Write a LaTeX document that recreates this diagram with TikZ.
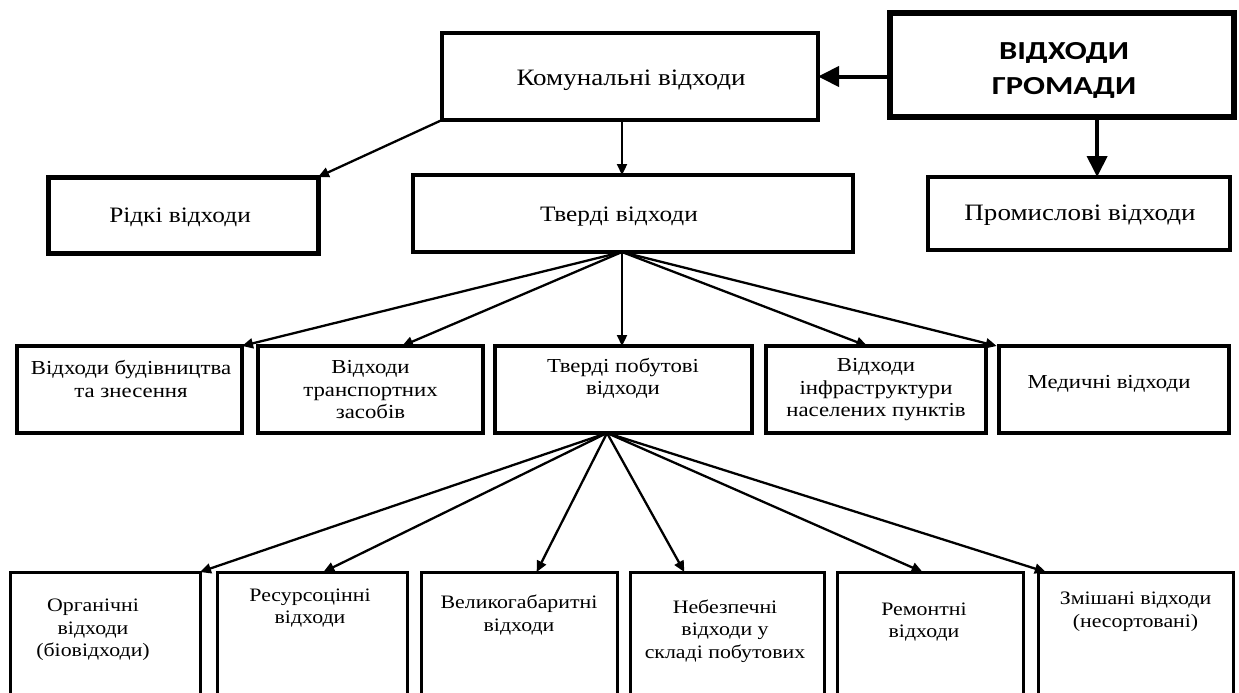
\documentclass[tikz,border=0pt]{standalone}
\usepackage{fontspec}
\setmainfont{Liberation Serif}[FakeStretch=1.15]
\newfontfamily\vgfont{Carlito}[FakeStretch=1.25]
\usetikzlibrary{arrows.meta,calc}
\tikzset{
  box/.style={draw=black, rectangle, inner sep=0pt, outer sep=0pt, fill=white},
  lbl/.style={align=center, inner sep=0pt},
  thinarrow/.style={draw=black, line width=2.3pt, -{Triangle[length=11pt,width=10pt]}},
  bigarrow/.style={draw=black, line width=4pt, -{Triangle[length=21pt,width=20pt]}},
  bigtxt/.style={font=\fontsize{23.5}{27}\selectfont},
  midtxt/.style={font=\fontsize{19.8}{22.5}\selectfont},
  lowtxt/.style={font=\fontsize{19}{22.5}\selectfont},
}
\begin{document}
\begin{tikzpicture}[x=1pt,y=-1pt]
\useasboundingbox[fill=white] (0,0) rectangle (1239,693);
\begin{scope}
\clip (0,0) rectangle (1239,693);
% top
\node[box, line width=3.5pt, minimum width=376pt, minimum height=87pt] (kom) at (630,76.5) {};
\node[lbl, bigtxt] (komt) at (631,80) {Комунальні відходи};
\node[box, line width=6.5pt, minimum width=344pt, minimum height=104pt] (vg) at (1062,65) {};
\node[lbl, font=\vgfont\bfseries\fontsize{26}{35}\selectfont] (vgt) at (1064,70) {ВІДХОДИ\\ГРОМАДИ};
% second row
\node[box, line width=5pt, minimum width=270pt, minimum height=76pt] (ridk) at (183,215) {};
\node[lbl, font=\fontsize{22}{26}\selectfont] (ridkt) at (180,217) {Рідкі відходи};
\node[box, line width=4.5pt, minimum width=440pt, minimum height=77pt] (tverd) at (633,213.5) {};
\node[lbl, font=\fontsize{22}{26}\selectfont] (tverdt) at (619,217) {Тверді відходи};
\node[box, line width=4.5pt, minimum width=302pt, minimum height=73pt] (prom) at (1079,213.5) {};
\node[lbl, bigtxt] (promt) at (1080,215.5) {Промислові відходи};
% third row
\node[box, line width=3.5pt, minimum width=225pt, minimum height=87pt] (bud) at (129.5,389.5) {};
\node[lbl, midtxt] (budt) at (131,379) {Відходи будівництва\\та знесення};
\node[box, line width=3.5pt, minimum width=225pt, minimum height=87pt] (trans) at (370.5,389.5) {};
\node[lbl, midtxt] (transt) at (370.5,390) {Відходи\\транспортних\\засобів};
\node[box, line width=3.5pt, minimum width=257pt, minimum height=87pt] (tpv) at (623.5,389.5) {};
\node[lbl, midtxt] (tpvt) at (623,378.5) {Тверді побутові\\відходи};
\node[box, line width=3.5pt, minimum width=220pt, minimum height=87pt] (infra) at (876,389.5) {};
\node[lbl, midtxt] (infrat) at (876,390) {Відходи\\інфраструктури\\населених пунктів};
\node[box, line width=3.5pt, minimum width=230pt, minimum height=87pt] (med) at (1114,389.5) {};
\node[lbl, midtxt] (medt) at (1109,384) {Медичні відходи};
% fourth row
\node[box, line width=3pt, minimum width=190pt, minimum height=150pt, anchor=north] (org) at (105,572) {};
\node[lbl, lowtxt] (orgt) at (93,630) {Органічні\\відходи\\(біовідходи)};
\node[box, line width=3pt, minimum width=190pt, minimum height=150pt, anchor=north] (res) at (312,572) {};
\node[lbl, lowtxt] (rest) at (310,608) {Ресурсоцінні\\відходи};
\node[box, line width=3pt, minimum width=196pt, minimum height=150pt, anchor=north] (vel) at (519,572) {};
\node[lbl, lowtxt] (velt) at (519,615) {Великогабаритні\\відходи};
\node[box, line width=3pt, minimum width=194pt, minimum height=150pt, anchor=north] (neb) at (727,572) {};
\node[lbl, lowtxt] (nebt) at (725,631) {Небезпечні\\відходи у\\складі побутових};
\node[box, line width=3pt, minimum width=186pt, minimum height=150pt, anchor=north] (rem) at (930,572) {};
\node[lbl, lowtxt] (remt) at (924,622) {Ремонтні\\відходи};
\node[box, line width=3pt, minimum width=195pt, minimum height=150pt, anchor=north] (zm) at (1135.5,572) {};
\node[lbl, lowtxt] (zmt) at (1135.5,611.5) {Змішані відходи\\(несортовані)};
\end{scope}
% fan origins
\coordinate (f1) at (622,252);
\coordinate (f2) at (607,433);
% connectors
\draw[bigarrow] (vg.west |- kom.east) -- (kom.east);
\coordinate (promtop) at ($(prom.north west)!0.56!(prom.north east)$);
\draw[bigarrow] (vg.south -| promtop) -- (promtop);
\draw[thinarrow] (kom.south west) -- (ridk.north east);
\draw[thinarrow] (kom.south -| f1) -- (tverd.north -| f1);
\draw[thinarrow] (f1) -- (bud.north east);
\draw[thinarrow] (f1) -- ($(trans.north west)!0.64!(trans.north east)$);
\draw[thinarrow] (f1) -- (f1 |- tpv.north);
\draw[thinarrow] (f1) -- ($(infra.north west)!0.46!(infra.north east)$);
\draw[thinarrow] (f1) -- ($(med.north west)!-0.01!(med.north east)$);
\draw[thinarrow] (f2) -- (org.north east);
\draw[thinarrow] (f2) -- ($(res.north west)!0.56!(res.north east)$);
\draw[thinarrow] (f2) -- ($(vel.north west)!0.59!(vel.north east)$);
\draw[thinarrow] (f2) -- ($(neb.north west)!0.28!(neb.north east)$);
\draw[thinarrow] (f2) -- ($(rem.north west)!0.46!(rem.north east)$);
\draw[thinarrow] (f2) -- ($(zm.north west)!0.04!(zm.north east)$);
\end{tikzpicture}
\end{document}
